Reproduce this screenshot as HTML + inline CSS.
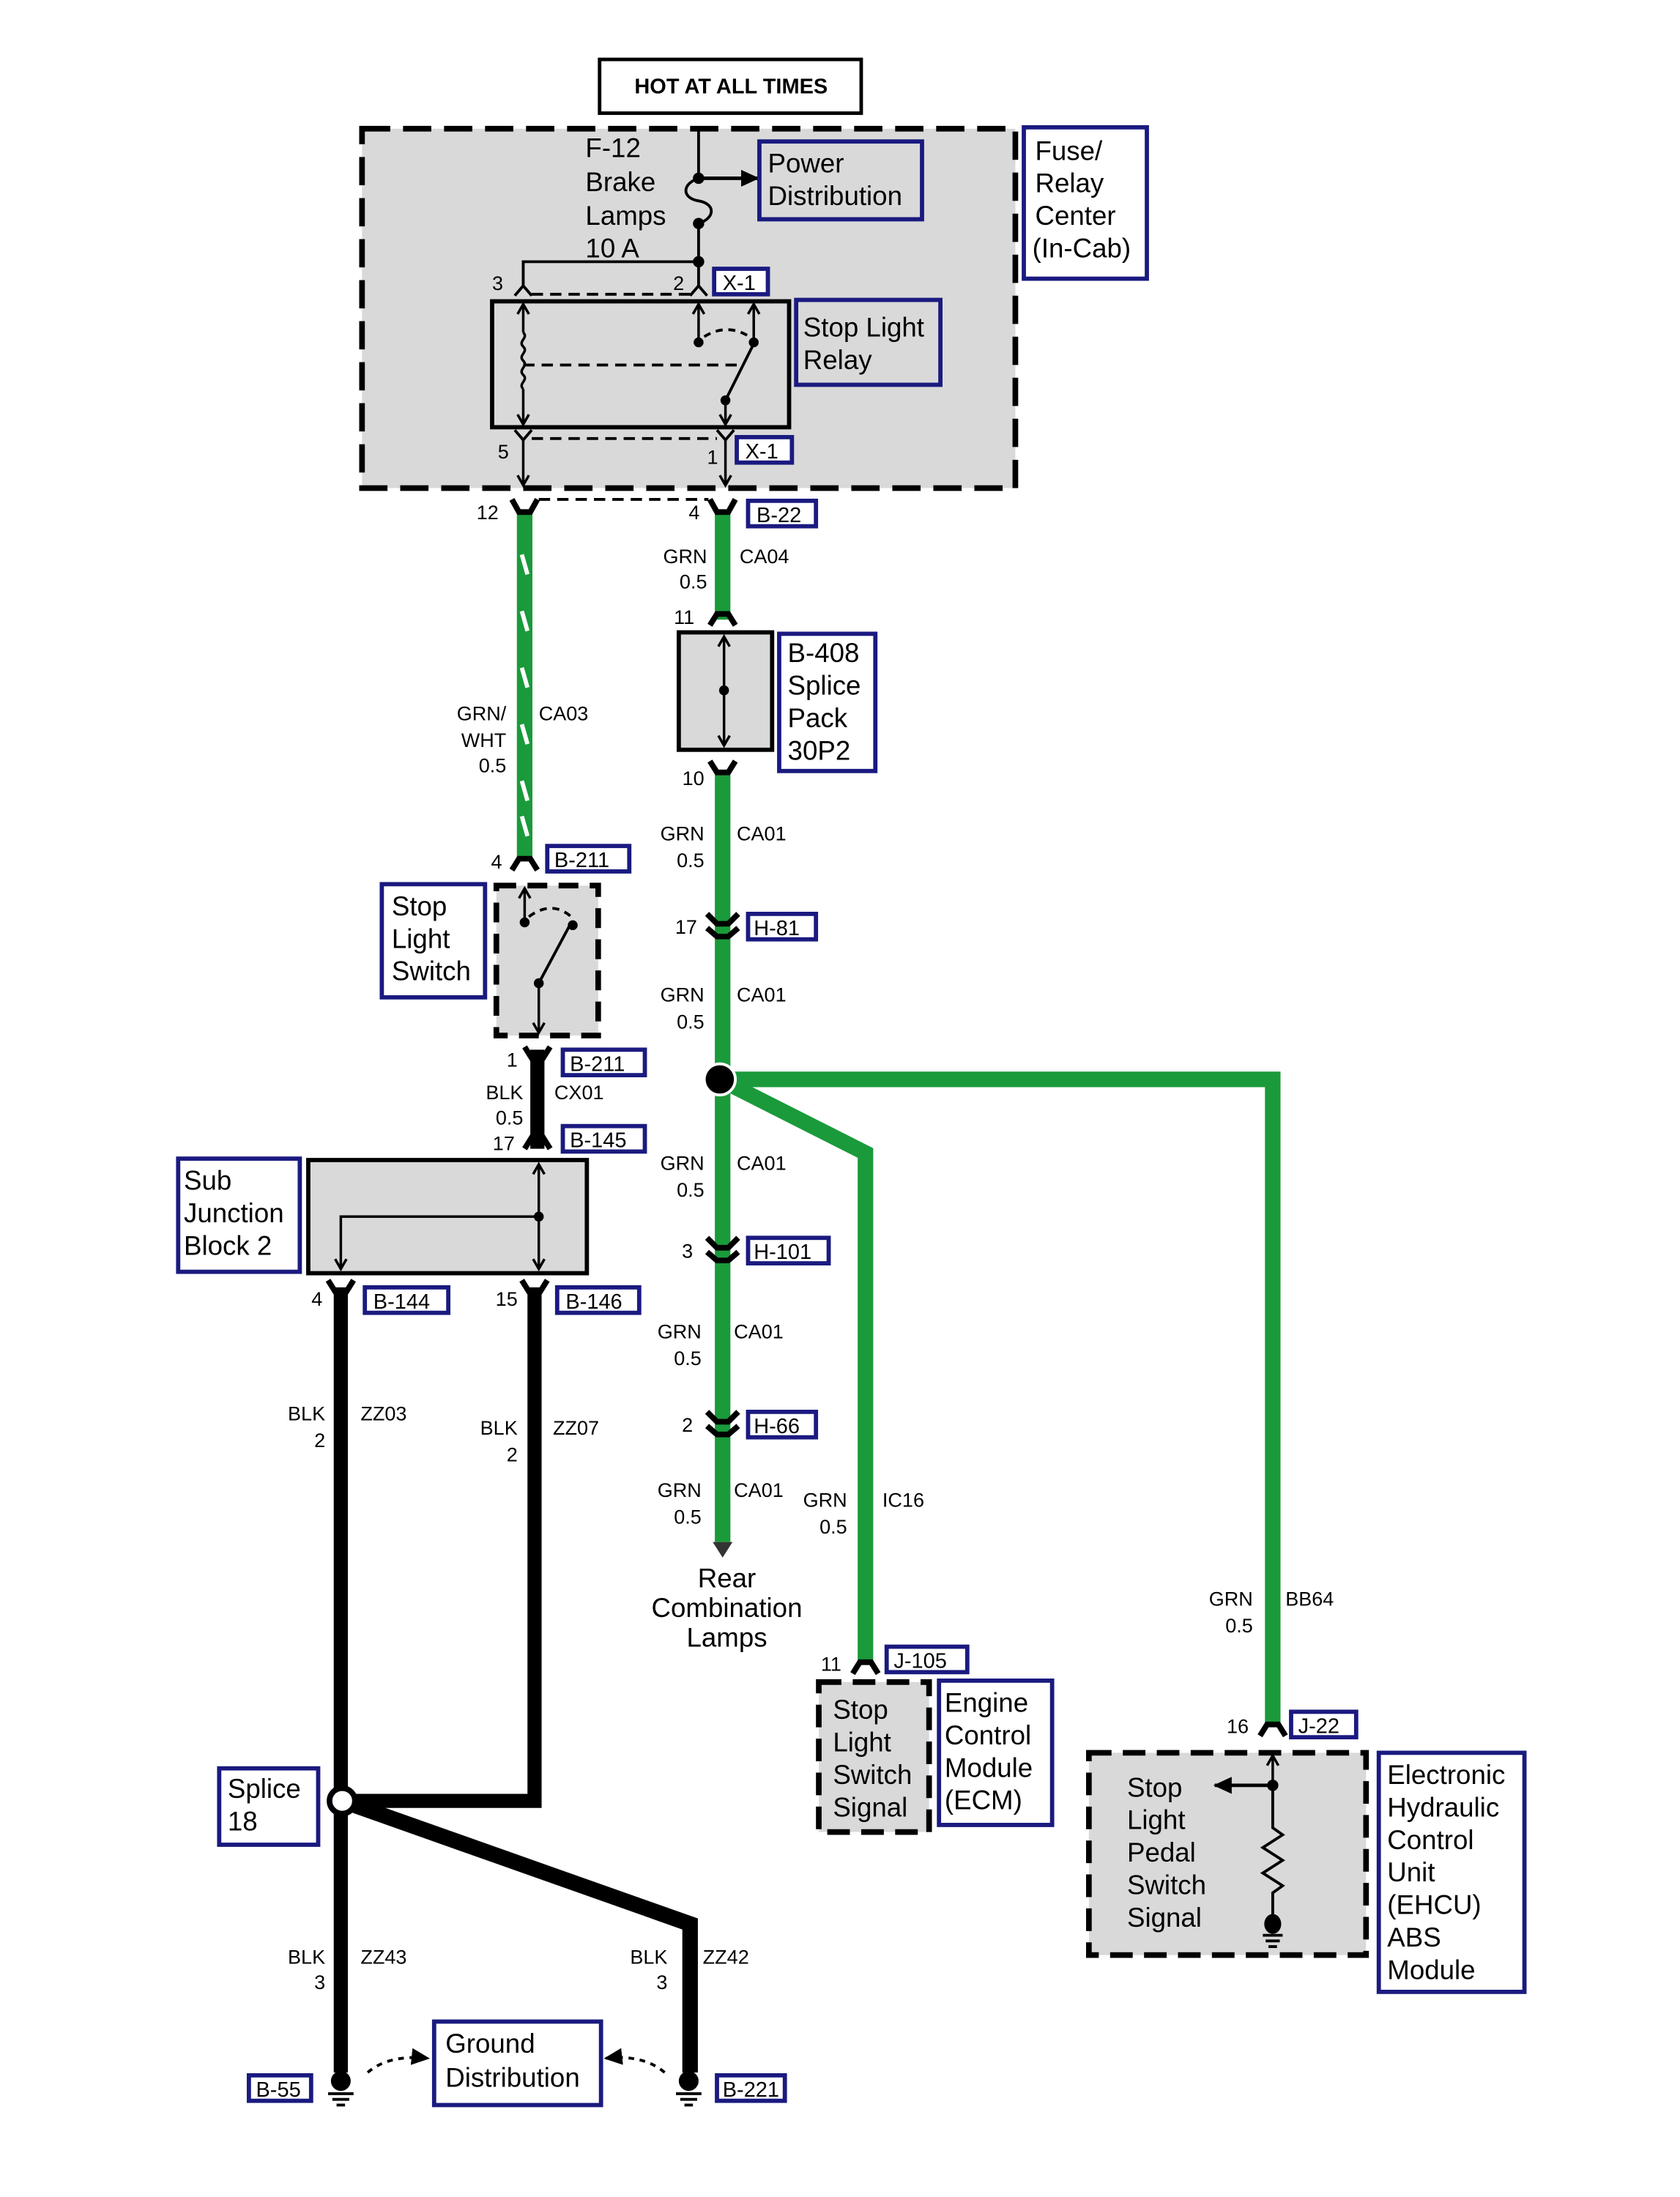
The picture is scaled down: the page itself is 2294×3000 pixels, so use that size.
<!DOCTYPE html>
<html><head><meta charset="utf-8"><style>
html,body{margin:0;padding:0;background:#fff}
svg{display:block}
text{font-family:"Liberation Sans",Arial,sans-serif;fill:#000}
.b{font-size:19px}
.s{font-size:14px}
.lb{fill:#fff;stroke:#1a1a80;stroke-width:3}
.lt{font-size:15px}
</style></head><body>
<svg width="2294" height="3000" viewBox="0 0 1188 1553" preserveAspectRatio="none" xmlns="http://www.w3.org/2000/svg">
<defs>
<marker id="ah" markerWidth="10" markerHeight="10" refX="8" refY="5" orient="auto" markerUnits="userSpaceOnUse"><path d="M1,1 L8,5 L1,9" fill="none" stroke="#000" stroke-width="1.8"/></marker>
<marker id="af" markerWidth="14" markerHeight="12" refX="12" refY="6" orient="auto" markerUnits="userSpaceOnUse"><path d="M0,0 L13,6 L0,12z" fill="#000"/></marker>
</defs>

<!-- HOT AT ALL TIMES -->
<rect x="424" y="42" width="185" height="38" fill="#fff" stroke="#000" stroke-width="2.5"/>
<text x="517" y="66" text-anchor="middle" style="font-size:15px;font-weight:bold">HOT AT ALL TIMES</text>

<!-- Fuse relay center -->
<rect x="256" y="91" width="462" height="254" fill="#d9d9d9" stroke="#000" stroke-width="4" stroke-dasharray="20,9"/>
<text class="b" x="414" y="111">F-12</text>
<text class="b" x="414" y="135">Brake</text>
<text class="b" x="414" y="159">Lamps</text>
<text class="b" x="414" y="182">10 A</text>
<path d="M494,91 V126 M494,158 V185 H370 V203" fill="none" stroke="#000" stroke-width="2"/>
<path d="M494,126 C482,130 482,140 494,142 C506,144 506,154 494,158" fill="none" stroke="#000" stroke-width="2"/>
<circle cx="494" cy="126" r="4"/><circle cx="494" cy="158" r="4"/><circle cx="494" cy="185" r="4"/>
<line x1="494" y1="126" x2="536" y2="126" stroke="#000" stroke-width="2.5" marker-end="url(#af)"/>
<rect x="537" y="100" width="115" height="55" fill="#d9d9d9" stroke="#1a1a80" stroke-width="3"/>
<text class="b" x="543" y="122">Power</text><text class="b" x="543" y="145">Distribution</text>
<rect x="724" y="90" width="87" height="107" class="lb"/>
<text class="b" x="732" y="113">Fuse/</text><text class="b" x="732" y="136">Relay</text><text class="b" x="732" y="159">Center</text><text class="b" x="730" y="182">(In-Cab)</text>
<!-- top pins -->
<path d="M364,209 L370,202 L376,209 M488,209 L494,202 L500,209 M494,185 V203" fill="none" stroke="#000" stroke-width="2"/>
<line x1="376" y1="208" x2="488" y2="208" stroke="#000" stroke-width="2" stroke-dasharray="8,5"/>
<text class="s" x="348" y="205">3</text><text class="s" x="476" y="205">2</text>
<rect x="505" y="190" width="38" height="18" class="lb"/><text class="lt" x="511" y="205">X-1</text>
<!-- relay -->
<rect x="348" y="213" width="210" height="89" fill="none" stroke="#000" stroke-width="3"/>
<line x1="370" y1="235" x2="370" y2="215" stroke="#000" stroke-width="1.8" marker-end="url(#ah)"/>
<path d="M370,235 c4,4 -4,6 0,10 c4,4 -4,6 0,10 c4,4 -4,6 0,10 c4,4 -4,6 0,10" fill="none" stroke="#000" stroke-width="1.8"/>
<line x1="370" y1="275" x2="370" y2="300" stroke="#000" stroke-width="1.8" marker-end="url(#ah)"/>
<line x1="370" y1="258" x2="525" y2="258" stroke="#000" stroke-width="2" stroke-dasharray="8,5"/>
<line x1="494" y1="242" x2="494" y2="215" stroke="#000" stroke-width="1.8" marker-end="url(#ah)"/>
<line x1="533" y1="242" x2="533" y2="215" stroke="#000" stroke-width="1.8" marker-end="url(#ah)"/>
<circle cx="494" cy="242" r="3.5"/><circle cx="533" cy="242" r="3.5"/><circle cx="513" cy="283" r="3.5"/>
<path d="M498,238 Q514,228 530,238" fill="none" stroke="#000" stroke-width="2" stroke-dasharray="5,4"/>
<line x1="513" y1="283" x2="532" y2="245" stroke="#000" stroke-width="2"/>
<line x1="513" y1="283" x2="513" y2="300" stroke="#000" stroke-width="1.8" marker-end="url(#ah)"/>
<rect x="563" y="212" width="102" height="60" fill="#d9d9d9" stroke="#1a1a80" stroke-width="3"/>
<text class="b" x="568" y="238">Stop Light</text><text class="b" x="568" y="261">Relay</text>
<!-- bottom pins -->
<path d="M364,304 L370,311 L376,304 M507,304 L513,311 L519,304" fill="none" stroke="#000" stroke-width="2"/>
<line x1="376" y1="310" x2="507" y2="310" stroke="#000" stroke-width="2" stroke-dasharray="8,5"/>
<line x1="370" y1="310" x2="370" y2="343" stroke="#000" stroke-width="1.8" marker-end="url(#ah)"/>
<line x1="513" y1="310" x2="513" y2="343" stroke="#000" stroke-width="1.8" marker-end="url(#ah)"/>
<text class="s" x="352" y="324">5</text><text class="s" x="500" y="328">1</text>
<rect x="521" y="309" width="39" height="18" class="lb"/><text class="lt" x="527" y="324">X-1</text>

<!-- B-22 connectors -->
<line x1="381" y1="353" x2="501" y2="353" stroke="#000" stroke-width="2" stroke-dasharray="8,5"/>
<text class="s" x="337" y="367">12</text><text class="s" x="487" y="367">4</text>
<rect x="529" y="354" width="48" height="18" class="lb"/><text class="lt" x="535" y="369">B-22</text>

<!-- green wires -->
<g stroke="#1a9a3a" stroke-width="11" fill="none">
<line x1="371" y1="360" x2="371" y2="607"/>
<line x1="511" y1="360" x2="511" y2="438"/>
<line x1="511" y1="545" x2="511" y2="1090"/>
<path d="M509,763 L612,815 V1175"/>
<path d="M509,763 H900 V1218"/>
</g>
<g stroke="#fff" stroke-width="3">
<line x1="369" y1="392" x2="373" y2="406"/><line x1="369" y1="432" x2="373" y2="446"/><line x1="369" y1="472" x2="373" y2="486"/><line x1="369" y1="512" x2="373" y2="526"/><line x1="369" y1="552" x2="373" y2="566"/><line x1="369" y1="577" x2="373" y2="591"/>
</g>
<path d="M504,1090 L518,1090 L511,1101z" fill="#333"/>
<circle cx="509" cy="763" r="11" fill="#000" stroke="#fff" stroke-width="2"/>
<!-- connector chevrons top -->
<g fill="none" stroke="#000" stroke-width="4">
<path d="M362,353 L367,362 H375 L380,353"/>
<path d="M502,353 L507,362 H515 L520,353"/>
<path d="M502,442 L507,434 H515 L520,442"/>
<path d="M502,538 L507,546 H515 L520,538"/>
<path d="M500,646 L507,653 H515 L522,646 M500,656 L507,662 H515 L522,656"/>
<path d="M500,875 L507,882 H515 L522,875 M500,885 L507,891 H515 L522,885"/>
<path d="M500,998 L507,1005 H515 L522,998 M500,1008 L507,1014 H515 L522,1008"/>
<path d="M362,615 L367,607 H375 L380,615"/>
<path d="M603,1183 L608,1175 H616 L621,1183"/>
<path d="M891,1227 L896,1219 H904 L909,1227"/>
</g>
<!-- wire labels right green -->
<g class="s">
<text x="500" y="398" text-anchor="end">GRN</text><text x="500" y="416" text-anchor="end">0.5</text><text x="523" y="398">CA04</text>
<text x="491" y="441" text-anchor="end">11</text>
<text x="498" y="555" text-anchor="end">10</text>
<text x="498" y="594" text-anchor="end">GRN</text><text x="498" y="613" text-anchor="end">0.5</text><text x="521" y="594">CA01</text>
<text x="493" y="660" text-anchor="end">17</text>
<text x="498" y="708" text-anchor="end">GRN</text><text x="498" y="727" text-anchor="end">0.5</text><text x="521" y="708">CA01</text>
<text x="498" y="827" text-anchor="end">GRN</text><text x="498" y="846" text-anchor="end">0.5</text><text x="521" y="827">CA01</text>
<text x="490" y="889" text-anchor="end">3</text>
<text x="496" y="946" text-anchor="end">GRN</text><text x="496" y="965" text-anchor="end">0.5</text><text x="519" y="946">CA01</text>
<text x="490" y="1012" text-anchor="end">2</text>
<text x="496" y="1058" text-anchor="end">GRN</text><text x="496" y="1077" text-anchor="end">0.5</text><text x="519" y="1058">CA01</text>
<text x="599" y="1065" text-anchor="end">GRN</text><text x="599" y="1084" text-anchor="end">0.5</text><text x="624" y="1065">IC16</text>
<text x="886" y="1135" text-anchor="end">GRN</text><text x="886" y="1154" text-anchor="end">0.5</text><text x="909" y="1135">BB64</text>
<text x="358" y="509" text-anchor="end">GRN/</text><text x="358" y="528" text-anchor="end">WHT</text><text x="358" y="546" text-anchor="end">0.5</text><text x="381" y="509">CA03</text>
<text x="595" y="1181" text-anchor="end">11</text>
<text x="883" y="1225" text-anchor="end">16</text>
<text x="355" y="614" text-anchor="end">4</text>
</g>
<!-- B-408 splice pack -->
<rect x="480" y="447" width="66" height="83" fill="#d9d9d9" stroke="#000" stroke-width="3"/>
<line x1="512" y1="488" x2="512" y2="450" stroke="#000" stroke-width="1.8" marker-end="url(#ah)"/>
<line x1="512" y1="488" x2="512" y2="527" stroke="#000" stroke-width="1.8" marker-end="url(#ah)"/>
<circle cx="512" cy="488" r="3.5"/>
<rect x="551" y="448" width="68" height="97" class="lb"/>
<text class="b" x="557" y="468">B-408</text><text class="b" x="557" y="491">Splice</text><text class="b" x="557" y="514">Pack</text><text class="b" x="557" y="537">30P2</text>
<rect x="529" y="646" width="48" height="18" class="lb"/><text class="lt" x="533" y="661">H-81</text>
<rect x="529" y="875" width="57" height="18" class="lb"/><text class="lt" x="533" y="890">H-101</text>
<rect x="529" y="998" width="48" height="18" class="lb"/><text class="lt" x="533" y="1013">H-66</text>
<text class="b" x="514" y="1122" text-anchor="middle">Rear</text>
<text class="b" x="514" y="1143" text-anchor="middle">Combination</text>
<text class="b" x="514" y="1164" text-anchor="middle">Lamps</text>

<!-- ECM -->
<rect x="627" y="1164" width="57" height="18" class="lb"/><text class="lt" x="632" y="1179">J-105</text>
<rect x="579" y="1189" width="78" height="106" fill="#d9d9d9" stroke="#000" stroke-width="4" stroke-dasharray="16,8"/>
<text class="b" x="589" y="1215">Stop</text><text class="b" x="589" y="1238">Light</text><text class="b" x="589" y="1261">Switch</text><text class="b" x="589" y="1284">Signal</text>
<rect x="664" y="1188" width="80" height="102" class="lb"/>
<text class="b" x="668" y="1210">Engine</text><text class="b" x="668" y="1233">Control</text><text class="b" x="668" y="1256">Module</text><text class="b" x="668" y="1279">(ECM)</text>

<!-- EHCU -->
<rect x="913" y="1210" width="46" height="18" class="lb"/><text class="lt" x="918" y="1225">J-22</text>
<rect x="770" y="1239" width="196" height="143" fill="#d9d9d9" stroke="#000" stroke-width="4" stroke-dasharray="16,8"/>
<line x1="900" y1="1262" x2="900" y2="1241" stroke="#000" stroke-width="1.8" marker-end="url(#ah)"/>
<line x1="900" y1="1262" x2="859" y2="1262" stroke="#000" stroke-width="2.5" marker-end="url(#af)"/>
<circle cx="900" cy="1262" r="4"/>
<path d="M900,1262 V1292 l7,5 l-14,9 l14,9 l-14,9 l14,9 l-7,5 V1358" fill="none" stroke="#000" stroke-width="2"/>
<ellipse cx="900" cy="1360" rx="6" ry="7"/>
<path d="M893,1368 H907 M895,1372 H905 M897,1376 H903" stroke="#000" stroke-width="2"/>
<text class="b" x="797" y="1270">Stop</text><text class="b" x="797" y="1293">Light</text><text class="b" x="797" y="1316">Pedal</text><text class="b" x="797" y="1339">Switch</text><text class="b" x="797" y="1362">Signal</text>
<rect x="975" y="1239" width="103" height="169" class="lb"/>
<text class="b" x="981" y="1261">Electronic</text><text class="b" x="981" y="1284">Hydraulic</text><text class="b" x="981" y="1307">Control</text><text class="b" x="981" y="1330">Unit</text><text class="b" x="981" y="1353">(EHCU)</text><text class="b" x="981" y="1376">ABS</text><text class="b" x="981" y="1399">Module</text>

<!-- Stop light switch -->
<rect x="387" y="598" width="58" height="18" class="lb"/><text class="lt" x="392" y="613">B-211</text>
<rect x="351" y="626" width="72" height="106" fill="#d9d9d9" stroke="#000" stroke-width="4" stroke-dasharray="14,8"/>
<line x1="371" y1="652" x2="371" y2="628" stroke="#000" stroke-width="1.8" marker-end="url(#ah)"/>
<circle cx="371" cy="652" r="3.5"/><circle cx="405" cy="654" r="3.5"/><circle cx="381" cy="695" r="3.5"/>
<path d="M374,648 Q390,636 404,648" fill="none" stroke="#000" stroke-width="2" stroke-dasharray="5,4"/>
<line x1="381" y1="695" x2="404" y2="652" stroke="#000" stroke-width="2"/>
<line x1="381" y1="695" x2="381" y2="730" stroke="#000" stroke-width="1.8" marker-end="url(#ah)"/>
<rect x="270" y="625" width="73" height="80" class="lb"/>
<text class="b" x="277" y="647">Stop</text><text class="b" x="277" y="670">Light</text><text class="b" x="277" y="693">Switch</text>

<!-- black wires -->
<g stroke="#000" fill="none">
<line x1="380" y1="742" x2="380" y2="812" stroke-width="10"/>
<line x1="241" y1="910" x2="241" y2="1465" stroke-width="10"/>
<path d="M378,910 V1273 H241" stroke-width="10"/>
<path d="M242,1273 L488,1360 V1465" stroke-width="11"/>
</g>
<g fill="none" stroke="#000" stroke-width="4">
<path d="M371,740 L376,748 H384 L389,740"/>
<path d="M371,812 L376,804 H384 L389,812"/>
<path d="M232,905 L237,913 H245 L250,905"/>
<path d="M369,905 L374,913 H382 L387,905"/>
</g>
<circle cx="242" cy="1273" r="9" fill="#fff" stroke="#000" stroke-width="4"/>
<g class="s">
<text x="366" y="754" text-anchor="end">1</text>
<text x="370" y="777" text-anchor="end">BLK</text><text x="370" y="795" text-anchor="end">0.5</text><text x="392" y="777">CX01</text>
<text x="364" y="813" text-anchor="end">17</text>
<text x="228" y="923" text-anchor="end">4</text><text x="366" y="923" text-anchor="end">15</text>
<text x="230" y="1004" text-anchor="end">BLK</text><text x="230" y="1023" text-anchor="end">2</text><text x="255" y="1004">ZZ03</text>
<text x="366" y="1014" text-anchor="end">BLK</text><text x="366" y="1033" text-anchor="end">2</text><text x="391" y="1014">ZZ07</text>
<text x="230" y="1388" text-anchor="end">BLK</text><text x="230" y="1406" text-anchor="end">3</text><text x="255" y="1388">ZZ43</text>
<text x="472" y="1388" text-anchor="end">BLK</text><text x="472" y="1406" text-anchor="end">3</text><text x="497" y="1388">ZZ42</text>
</g>
<rect x="398" y="742" width="58" height="18" class="lb"/><text class="lt" x="403" y="757">B-211</text>
<rect x="398" y="796" width="58" height="18" class="lb"/><text class="lt" x="403" y="811">B-145</text>
<!-- Sub junction block -->
<rect x="218" y="820" width="197" height="80" fill="#d9d9d9" stroke="#000" stroke-width="3"/>
<line x1="381" y1="860" x2="381" y2="823" stroke="#000" stroke-width="1.8" marker-end="url(#ah)"/>
<line x1="381" y1="860" x2="381" y2="897" stroke="#000" stroke-width="1.8" marker-end="url(#ah)"/>
<path d="M381,860 H241 V897" fill="none" stroke="#000" stroke-width="1.8" marker-end="url(#ah)"/>
<circle cx="381" cy="860" r="3.5"/>
<rect x="126" y="819" width="86" height="80" class="lb"/>
<text class="b" x="130" y="841">Sub</text><text class="b" x="130" y="864">Junction</text><text class="b" x="130" y="887">Block 2</text>
<rect x="258" y="910" width="59" height="18" class="lb"/><text class="lt" x="264" y="925">B-144</text>
<rect x="394" y="910" width="58" height="18" class="lb"/><text class="lt" x="400" y="925">B-146</text>
<rect x="155" y="1250" width="70" height="54" class="lb"/>
<text class="b" x="161" y="1271">Splice</text><text class="b" x="161" y="1294">18</text>

<!-- grounds -->
<g>
<ellipse cx="241" cy="1471" rx="7" ry="7"/>
<path d="M232,1480 H250 M235,1484 H247 M238,1488 H244" stroke="#000" stroke-width="2"/>
<ellipse cx="487" cy="1471" rx="7" ry="7"/>
<path d="M478,1480 H496 M481,1484 H493 M484,1488 H490" stroke="#000" stroke-width="2"/>
</g>
<path d="M260,1465 Q275,1452 303,1455" fill="none" stroke="#000" stroke-width="2" stroke-dasharray="4,4" marker-end="url(#af)"/>
<path d="M470,1465 Q455,1452 428,1455" fill="none" stroke="#000" stroke-width="2" stroke-dasharray="4,4" marker-end="url(#af)"/>
<rect x="307" y="1429" width="118" height="59" class="lb"/>
<text class="b" x="315" y="1451">Ground</text><text class="b" x="315" y="1475">Distribution</text>
<rect x="176" y="1467" width="44" height="18" class="lb"/><text class="lt" x="181" y="1482">B-55</text>
<rect x="507" y="1467" width="48" height="18" class="lb"/><text class="lt" x="511" y="1482">B-221</text>
</svg>
</body></html>
